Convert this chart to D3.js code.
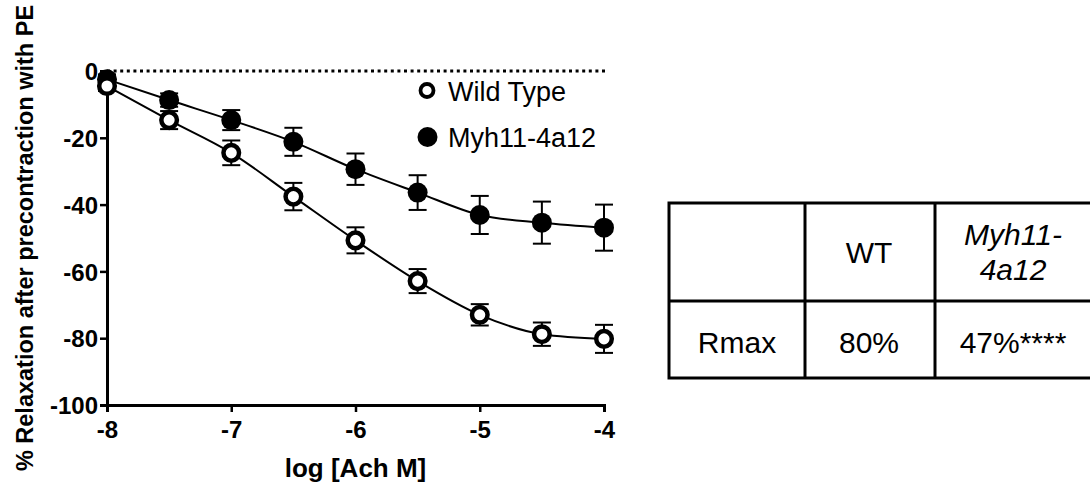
<!DOCTYPE html>
<html>
<head>
<meta charset="utf-8">
<script src="https://cdn.jsdelivr.net/npm/d3@7"></script>
<style>
  html, body { margin: 0; padding: 0; background: #fff; }
  svg { display: block; font-family: "Liberation Sans", Arial, sans-serif; }
</style>
</head>
<body>
<svg id="chart" width="1090" height="484"></svg>
<script>
// Acetylcholine concentrations (log M)
const logConc = [-8, -7.5, -7, -6.5, -6, -5.5, -5, -4.5, -4];
// Wild type: mean relaxation (%) and SEM
const wtMean = [-4.5, -14.7, -24.5, -37.6, -50.7, -62.9, -73.0, -78.8, -80.2];
const wtSem  = [1.5, 2.7, 3.7, 4.1, 3.9, 3.6, 3.2, 3.5, 4.2];
// Myh11-4a12: mean relaxation (%) and SEM
const myhMean = [-2.5, -8.7, -14.7, -21.2, -29.4, -36.4, -43.1, -45.4, -46.9];
const myhSem  = [1.5, 2.0, 3.0, 4.2, 4.7, 5.2, 5.7, 6.3, 6.9];

const xTicks = [-8, -7, -6, -5, -4];
const yTicks = [0, -20, -40, -60, -80, -100];

const seriesNames = ["Wild Type", "Myh11-4a12"];

// Summary table
const tableHeader = ["", "WT", "Myh11-4a12"];
const tableRow = ["Rmax", "80%", "47%****"];

const svg = d3.select("#chart");

const x = d3.scaleLinear().domain([-8, -4]).range([107, 604]);
const y = d3.scaleLinear().domain([-100, 0]).range([405, 71]);

// Reference line at 0 %
svg.append("line")
  .attr("x1", x(-8)).attr("x2", x(-4) + 3)
  .attr("y1", y(0)).attr("y2", y(0))
  .attr("stroke", "#000").attr("stroke-width", 3)
  .attr("stroke-dasharray", "3,3.6");

// Axes (plain hyphen for negative numbers)
const fmt = d => String(d);
const yAxis = svg.append("g")
  .attr("transform", `translate(${x(-8)},0)`)
  .call(d3.axisLeft(y).tickValues(yTicks).tickSize(7).tickPadding(2).tickFormat(fmt));
const xAxis = svg.append("g")
  .attr("transform", `translate(0,${y(-100)})`)
  .call(d3.axisBottom(x).tickValues(xTicks).tickSize(7).tickPadding(9).tickFormat(fmt));

[yAxis, xAxis].forEach(g => {
  g.select(".domain").attr("stroke", "#000").attr("stroke-width", 3);
  g.selectAll(".tick line").attr("stroke", "#000").attr("stroke-width", 2.5);
  g.selectAll(".tick text")
    .attr("fill", "#000")
    .style("font-family", "'Liberation Sans', Arial, sans-serif")
    .style("font-size", "24px")
    .style("font-weight", "bold");
});
yAxis.selectAll(".tick text").attr("dy", "0.36em");

// Axis titles
svg.append("text")
  .attr("transform", `translate(33,${(y(0) + y(-100)) / 2}) rotate(-90)`)
  .attr("text-anchor", "middle")
  .style("font-size", "23.5px").style("font-weight", "bold")
  .text("% Relaxation after precontraction with PE");

svg.append("text")
  .attr("x", x(-6)).attr("y", 477)
  .attr("text-anchor", "middle")
  .style("font-size", "26px").style("font-weight", "bold")
  .text("log [Ach M]");

// Series drawing
const line = d3.line().curve(d3.curveMonotoneX);

function drawSeries(means, sems, filled) {
  const g = svg.append("g");
  const pts = logConc.map((c, i) => [x(c), y(means[i])]);
  g.append("path")
    .attr("d", line(pts))
    .attr("fill", "none").attr("stroke", "#000").attr("stroke-width", 2);
  const cap = 9;
  logConc.forEach((c, i) => {
    const cx = x(c);
    const yt = y(means[i] + sems[i]);
    const yb = y(means[i] - sems[i]);
    g.append("line").attr("x1", cx).attr("x2", cx).attr("y1", yt).attr("y2", yb)
      .attr("stroke", "#000").attr("stroke-width", 2);
    [yt, yb].forEach(v => g.append("line")
      .attr("x1", cx - cap).attr("x2", cx + cap).attr("y1", v).attr("y2", v)
      .attr("stroke", "#000").attr("stroke-width", 2));
  });
  g.selectAll("circle").data(logConc).join("circle")
    .attr("cx", d => x(d))
    .attr("cy", (d, i) => y(means[i]))
    .attr("r", filled ? 10 : 7.8)
    .attr("fill", filled ? "#000" : "#fff")
    .attr("stroke", "#000")
    .attr("stroke-width", filled ? 0 : 4.5);
}

drawSeries(myhMean, myhSem, true);
drawSeries(wtMean, wtSem, false);

// Legend
const legend = svg.append("g");
seriesNames.forEach((name, i) => {
  const ly = [90.5, 137][i];
  if (i === 0) {
    legend.append("circle").attr("cx", 427).attr("cy", ly).attr("r", 6.5)
      .attr("fill", "#fff").attr("stroke", "#000").attr("stroke-width", 3.8);
  } else {
    legend.append("circle").attr("cx", 427.5).attr("cy", ly).attr("r", 10).attr("fill", "#000");
  }
  legend.append("text")
    .attr("x", 448).attr("y", ly + 10)
    .style("font-size", "27px")
    .text(name);
});

// Table
const colX = [669, 805, 935, 1092];
const rowY = [203, 301, 378];
const table = svg.append("g");
table.append("rect")
  .attr("x", colX[0]).attr("y", rowY[0])
  .attr("width", colX[3] - colX[0]).attr("height", rowY[2] - rowY[0])
  .attr("fill", "none").attr("stroke", "#000").attr("stroke-width", 3);
[colX[1], colX[2]].forEach(cx => table.append("line")
  .attr("x1", cx).attr("x2", cx).attr("y1", rowY[0]).attr("y2", rowY[2])
  .attr("stroke", "#000").attr("stroke-width", 3));
table.append("line")
  .attr("x1", colX[0]).attr("x2", colX[3]).attr("y1", rowY[1]).attr("y2", rowY[1])
  .attr("stroke", "#000").attr("stroke-width", 3);

const colCenter = [737, 869, 1013];
// header row
table.append("text").attr("x", colCenter[1]).attr("y", 263)
  .attr("text-anchor", "middle").style("font-size", "30px").text(tableHeader[1]);
const hdrParts = tableHeader[2].split("-");
table.append("text").attr("x", colCenter[2]).attr("y", 245)
  .attr("text-anchor", "middle").style("font-size", "30px").style("font-style", "italic")
  .text(hdrParts[0] + "-");
table.append("text").attr("x", colCenter[2]).attr("y", 280)
  .attr("text-anchor", "middle").style("font-size", "30px").style("font-style", "italic")
  .text(hdrParts[1]);
// value row
tableRow.forEach((t, i) => table.append("text")
  .attr("x", colCenter[i]).attr("y", 353)
  .attr("text-anchor", "middle").style("font-size", "30px").text(t));
</script>
</body>
</html>
